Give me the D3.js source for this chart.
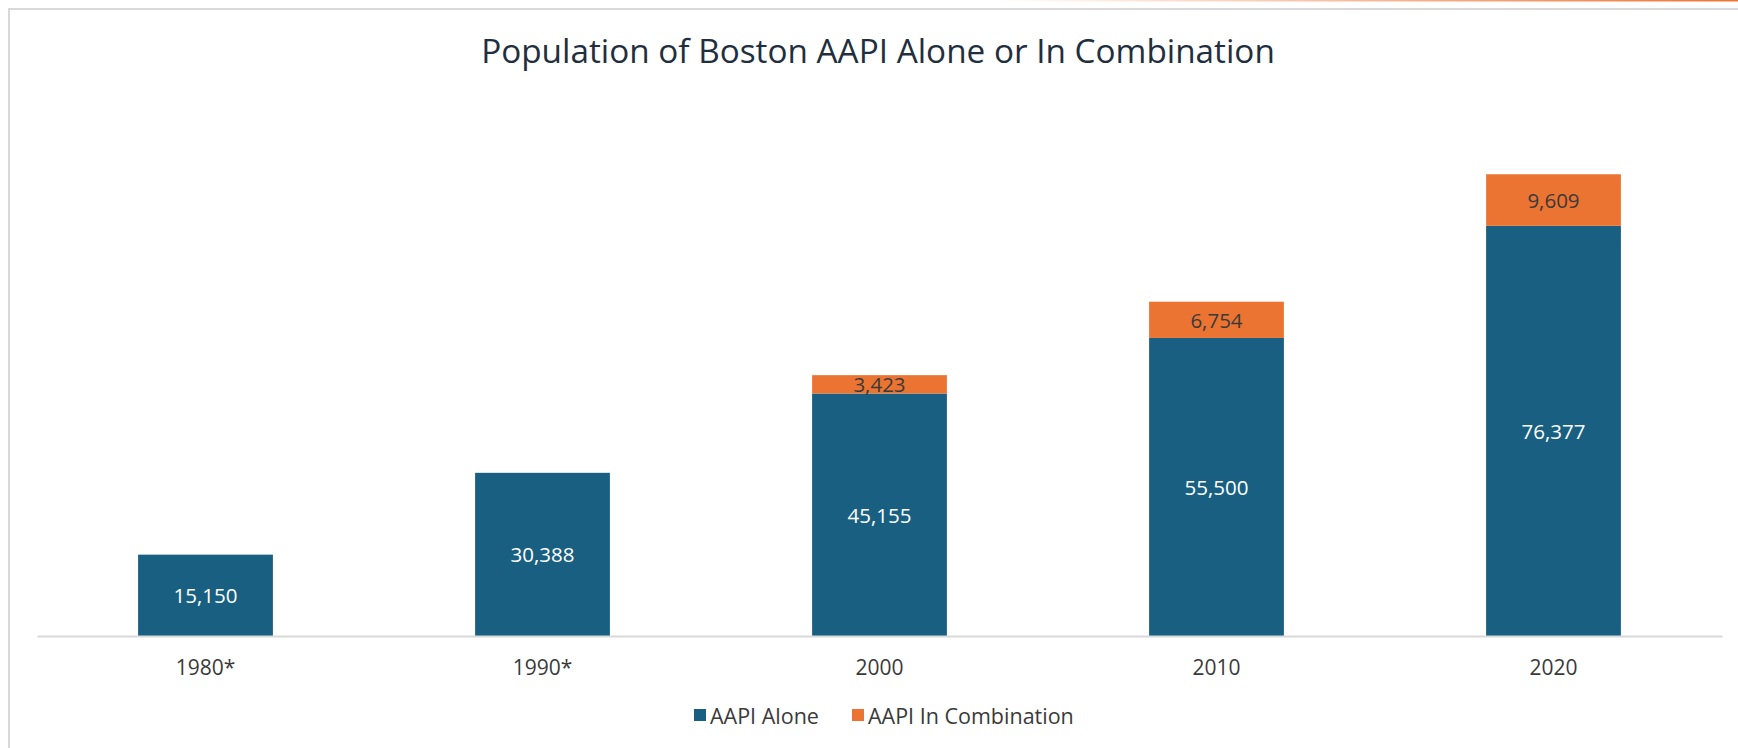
<!DOCTYPE html>
<html>
<head>
<meta charset="utf-8">
<script src="https://cdn.jsdelivr.net/npm/d3@7"></script>
<style>
  html, body { margin: 0; padding: 0; background: #ffffff; }
  svg { display: block; font-family: "Open Sans", sans-serif; }
</style>
</head>
<body>
<svg id="chart" width="1738" height="748"></svg>
<script>
const title = "Population of Boston AAPI Alone or In Combination";
const categories = ["1980*", "1990*", "2000", "2010", "2020"];
const aapiAlone = [15150, 30388, 45155, 55500, 76377];
const aapiCombination = [0, 0, 3423, 6754, 9609];
const seriesNames = ["AAPI Alone", "AAPI In Combination"];
const seriesColors = ["#195f81", "#ec7433"];

const W = 1738, H = 748;
const svg = d3.select("#chart");

// frame decorations
const defs = svg.append("defs");
const grad = defs.append("linearGradient").attr("id", "topgrad").attr("x1", "0").attr("x2", "1");
grad.append("stop").attr("offset", "0").attr("stop-color", "#ec7433").attr("stop-opacity", 0);
grad.append("stop").attr("offset", "1").attr("stop-color", "#ec7433").attr("stop-opacity", 1);
svg.append("rect").attr("x", 1000).attr("y", 0).attr("width", W - 1000).attr("height", 1.5).attr("fill", "url(#topgrad)");
svg.append("rect").attr("x", 8).attr("y", 8).attr("width", W - 8).attr("height", 2).attr("fill", "#d9d9d9");
svg.append("rect").attr("x", 8).attr("y", 8).attr("width", 2).attr("height", H - 8).attr("fill", "#d9d9d9");

// title
svg.append("text")
  .attr("x", 878).attr("y", 50)
  .attr("text-anchor", "middle").attr("dominant-baseline", "central")
  .attr("font-size", 33.3).attr("fill", "#1f2f40")
  .text(title);

const baseY = 636;
const x = d3.scaleBand().domain(categories).range([37, 1722]).paddingInner(0.6).paddingOuter(0.3);
const y = d3.scaleLinear().domain([0, 100000]).range([baseY, baseY - 537]);

const rows = categories.map((c, i) => ({ cat: c, alone: aapiAlone[i], comb: aapiCombination[i] }));
const stacked = d3.stack().keys(["alone", "comb"])(rows);

const g = svg.append("g");
stacked.forEach((layer, li) => {
  layer.forEach(d => {
    const v = d[1] - d[0];
    if (v <= 0) return;
    g.append("rect")
      .attr("x", x(d.data.cat))
      .attr("y", y(d[1]))
      .attr("width", x.bandwidth())
      .attr("height", y(d[0]) - y(d[1]))
      .attr("fill", seriesColors[li]);
  });
});
stacked.forEach((layer, li) => {
  layer.forEach(d => {
    const v = d[1] - d[0];
    if (v <= 0) return;
    g.append("text")
      .attr("x", x(d.data.cat) + x.bandwidth() / 2)
      .attr("y", (y(d[0]) + y(d[1])) / 2)
      .attr("text-anchor", "middle").attr("dominant-baseline", "central")
      .attr("font-size", 20.5)
      .attr("fill", li === 0 ? "#ffffff" : "#3a3a3a")
      .text(d3.format(",")(v));
  });
});

// x axis
const axis = svg.append("g").attr("transform", `translate(0,${baseY})`)
  .call(d3.axisBottom(x).tickSize(0).tickPadding(24));
axis.select(".domain").attr("stroke", "#d9d9d9").attr("stroke-width", 2);
axis.selectAll("text").attr("font-family", "Open Sans, sans-serif").attr("font-size", 21).attr("fill", "#3a3a3a");

// legend
const legendItems = [
  { name: seriesNames[0], color: seriesColors[0], x: 694 },
  { name: seriesNames[1], color: seriesColors[1], x: 852 }
];
const lg = svg.append("g");
legendItems.forEach(it => {
  lg.append("rect").attr("x", it.x).attr("y", 709).attr("width", 12).attr("height", 12).attr("fill", it.color);
  lg.append("text").attr("x", it.x + 16).attr("y", 715)
    .attr("dominant-baseline", "central").attr("font-size", 21.5).attr("fill", "#3a3a3a")
    .text(it.name);
});
</script>
</body>
</html>
